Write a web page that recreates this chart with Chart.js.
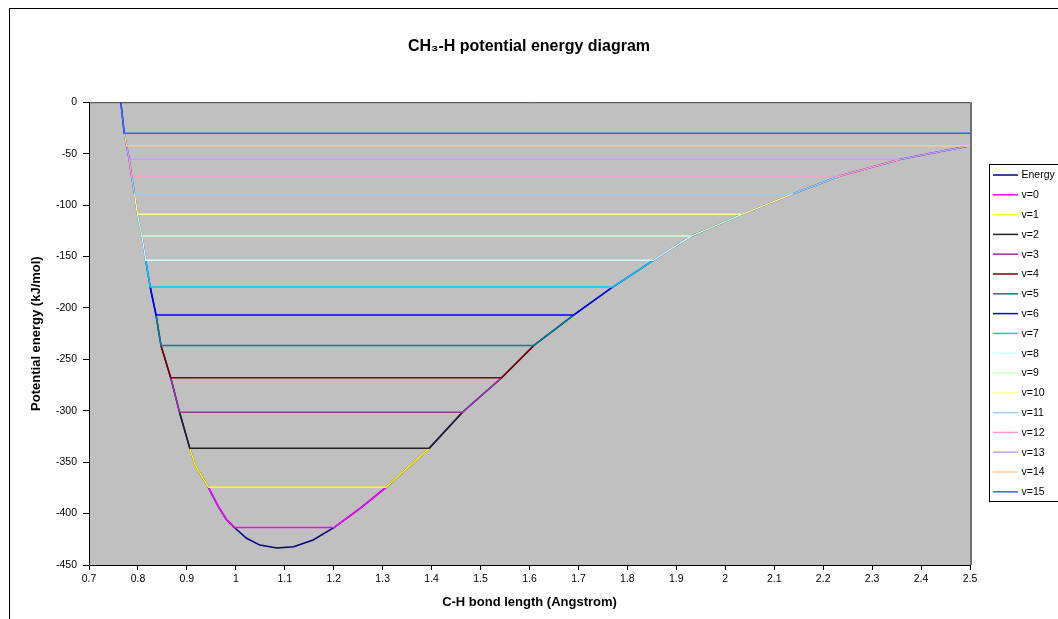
<!DOCTYPE html>
<html>
<head>
<meta charset="utf-8">
<title>CH3-H potential energy diagram</title>
<script src="https://cdn.jsdelivr.net/npm/chart.js@4.4.1/dist/chart.umd.min.js"></script>
<style>
  html, body { margin: 0; padding: 0; background: #fff; }
  canvas { display: block; }
</style>
</head>
<body>
<canvas id="pe-chart" width="1058" height="619"></canvas>
<script>
// --- data ---
// potential curve: C-H bond length (Angstrom) / energy (kJ/mol)
const bondLength = [
  0.765, 0.772, 0.777, 0.782, 0.787, 0.793, 0.799, 0.808, 0.816, 0.825, 0.837,
  0.847, 0.867, 0.885, 0.906, 0.917, 0.944, 0.964, 0.981, 0.992, 0.997,
  1.022, 1.049, 1.084, 1.118, 1.158, 1.201, 1.254, 1.307, 1.395, 1.463,
  1.543, 1.609, 1.690, 1.770, 1.853, 1.931, 2.035, 2.138, 2.234, 2.358, 2.5
];
const energy = [
  0, -30.1, -42.4, -55.4, -71.8, -89.1, -109, -130.1, -153.7, -179.7, -207,
  -236.5, -268, -301.5, -336.6, -353, -374.5, -393, -406, -411, -413.5,
  -424, -430.6, -433.5, -432.2, -425.7, -413.5, -395, -374.5, -336.6, -301.5,
  -268, -236.5, -207, -179.7, -153.7, -130.1, -109, -89.1, -71.8, -55.4, -42.4
];

// vibrational levels
const levelNames = ['v=0', 'v=1', 'v=2', 'v=3', 'v=4', 'v=5', 'v=6', 'v=7',
  'v=8', 'v=9', 'v=10', 'v=11', 'v=12', 'v=13', 'v=14', 'v=15'];
const levelEnergy = [-413.5, -374.5, -336.6, -301.5, -268, -236.5, -207, -179.7,
  -153.7, -130.1, -109, -89.1, -71.8, -55.4, -42.4, -30.1];
const levelLeft = [0.997, 0.944, 0.906, 0.885, 0.867, 0.847, 0.837, 0.825,
  0.816, 0.808, 0.799, 0.793, 0.787, 0.782, 0.777, 0.772];
const levelRight = [1.201, 1.307, 1.395, 1.463, 1.543, 1.609, 1.690, 1.770,
  1.853, 1.931, 2.035, 2.138, 2.234, 2.358, 2.5, 2.5];

const energyColor = '#000080';
const levelColors = ['#FF00FF', '#FFFF00', '#222222', '#993399', '#800000', '#008080',
  '#0000FF', '#00CCFF', '#CCFFFF', '#CCFFCC', '#FFFF99', '#99CCFF', '#FF99CC',
  '#CC99FF', '#FFCC99', '#3366FF'];

const FONT = '"Liberation Sans", Arial, Helvetica, sans-serif';

// each level: curve down to the level, flat across, curve back up to next level
function levelPoints(v) {
  const e = levelEnergy[v];
  const top = v + 1 < levelEnergy.length ? levelEnergy[v + 1] : 0;
  const pts = [];
  bondLength.forEach((x, i) => {
    if (x < levelLeft[v] && energy[i] <= top && energy[i] > e) pts.push({ x, y: energy[i] });
  });
  pts.push({ x: levelLeft[v], y: e }, { x: levelRight[v], y: e });
  bondLength.forEach((x, i) => {
    if (x > levelRight[v] && energy[i] <= top && energy[i] > e) pts.push({ x, y: energy[i] });
  });
  return pts;
}

const datasets = [{
  label: 'Energy',
  data: bondLength.map((x, i) => ({ x, y: energy[i] })),
  borderColor: energyColor
}].concat(levelNames.map((name, v) => ({
  label: name,
  data: levelPoints(v),
  borderColor: levelColors[v]
}))).map((ds, i, all) => Object.assign(ds, {
  borderWidth: 1.5,
  pointRadius: 0,
  tension: 0,
  fill: false,
  order: all.length - i   // later series painted on top, like Excel
}));

// white page, outer frame and grey plot area
const frame = {
  id: 'frame',
  beforeDraw(chart) {
    const { ctx, chartArea: a } = chart;
    ctx.save();
    ctx.fillStyle = '#fff';
    ctx.fillRect(0, 0, chart.width, chart.height);
    ctx.strokeStyle = '#000';
    ctx.lineWidth = 1;
    ctx.strokeRect(9.5, 8.5, chart.width + 20, chart.height + 20);
    ctx.fillStyle = '#C0C0C0';
    ctx.fillRect(a.left, a.top, a.right - a.left, a.bottom - a.top);
    ctx.restore();
  },
  afterDatasetsDraw(chart) {
    const { ctx, chartArea: a } = chart;
    ctx.save();
    ctx.strokeStyle = '#404040';
    ctx.lineWidth = 1;
    ctx.beginPath();
    ctx.moveTo(a.left, a.top + 0.5);
    ctx.lineTo(a.right, a.top + 0.5);
    ctx.stroke();
    ctx.strokeStyle = '#707070';
    ctx.lineWidth = 2;
    ctx.beginPath();
    ctx.moveTo(a.right + 1, a.top);
    ctx.lineTo(a.right + 1, a.bottom);
    ctx.stroke();
    ctx.restore();
  }
};

// boxed legend at the right edge, partly cut off like the original
const boxLegend = {
  id: 'boxLegend',
  afterDraw(chart) {
    const ctx = chart.ctx;
    ctx.save();
    ctx.fillStyle = '#fff';
    ctx.strokeStyle = '#000';
    ctx.lineWidth = 1;
    ctx.fillRect(989.5, 164.5, 100, 337);
    ctx.strokeRect(989.5, 164.5, 100, 337);
    ctx.font = '10.5px ' + FONT;
    ctx.textBaseline = 'middle';
    chart.data.datasets.forEach((ds, i) => {
      const y = 175 + i * 19.8;
      ctx.strokeStyle = ds.borderColor;
      ctx.lineWidth = 1.5;
      ctx.beginPath();
      ctx.moveTo(993, y);
      ctx.lineTo(1018, y);
      ctx.stroke();
      ctx.fillStyle = '#000';
      ctx.fillText(ds.label, 1021.5, y + 0.5);
    });
    ctx.restore();
  }
};

const fmt = v => String(parseFloat(Number(v).toFixed(2)));

new Chart(document.getElementById('pe-chart'), {
  type: 'line',
  data: { datasets },
  plugins: [frame, boxLegend],
  options: {
    responsive: false,
    animation: false,
    events: [],
    layout: { padding: 0 },
    plugins: {
      legend: { display: false },
      tooltip: { enabled: false },
      title: {
        display: true,
        text: 'CH\u2083-H potential energy diagram',
        color: '#000',
        font: { family: FONT, size: 16, weight: 'bold' },
        padding: { top: 37, bottom: 46 }
      }
    },
    scales: {
      x: {
        type: 'linear',
        min: 0.7,
        max: 2.5,
        afterFit: s => { s.height = 54; },
        ticks: {
          stepSize: 0.1,
          autoSkip: false,
          maxRotation: 0,
          color: '#000',
          padding: 3,
          font: { family: FONT, size: 10.5 },
          callback: fmt
        },
        grid: { drawOnChartArea: false, tickLength: 5, color: '#000' },
        border: { display: true, color: '#000', width: 1 },
        title: {
          display: true,
          text: 'C-H bond length (Angstrom)',
          color: '#000',
          font: { family: FONT, size: 13, weight: 'bold' },
          padding: { top: 0, bottom: 9 }
        }
      },
      y: {
        min: -450,
        max: 0,
        afterFit: s => { s.width = 89; },
        ticks: {
          stepSize: 50,
          color: '#000',
          padding: 6,
          font: { family: FONT, size: 10.5 },
          callback: fmt
        },
        grid: { drawOnChartArea: false, tickLength: 6, color: '#000' },
        border: { display: true, color: '#000', width: 1 },
        title: {
          display: true,
          text: 'Potential energy (kJ/mol)',
          color: '#000',
          font: { family: FONT, size: 13, weight: 'bold' },
          padding: { top: 29, bottom: 0 }
        }
      },
      // empty right-hand axis keeps room for the legend box
      yRoom: {
        position: 'right',
        display: true,
        afterFit: s => { s.width = 88; },
        ticks: { display: false },
        grid: { display: false },
        border: { display: false }
      }
    }
  }
});
</script>
</body>
</html>
